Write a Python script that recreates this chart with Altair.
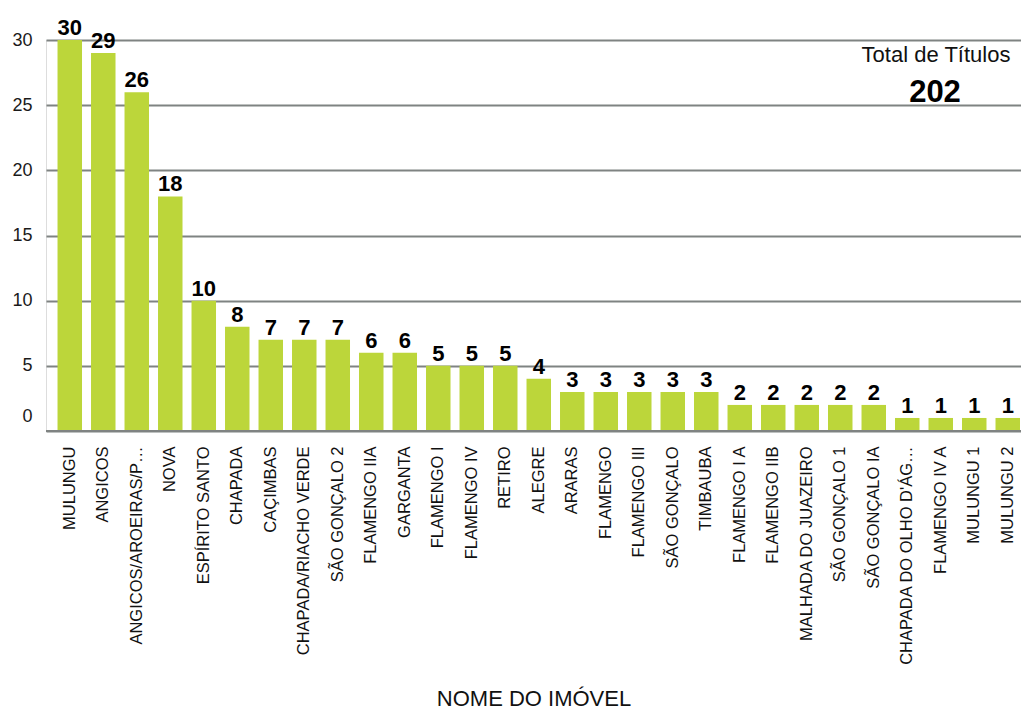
import altair as alt
import pandas as pd

# ---- data ----
names = [
    "MULUNGU", "ANGICOS", "ANGICOS/AROEIRAS/P…", "NOVA", "ESPÍRITO SANTO",
    "CHAPADA", "CAÇIMBAS", "CHAPADA/RIACHO VERDE", "SÃO GONÇALO 2",
    "FLAMENGO IIA", "GARGANTA", "FLAMENGO I", "FLAMENGO IV", "RETIRO",
    "ALEGRE", "ARARAS", "FLAMENGO", "FLAMENGO III", "SÃO GONÇALO",
    "TIMBAUBA", "FLAMENGO I A", "FLAMENGO IIB", "MALHADA DO JUAZEIRO",
    "SÃO GONÇALO 1", "SÃO GONÇALO IA", "CHAPADA DO OLHO D'ÁG…",
    "FLAMENGO IV A", "MULUNGU 1", "MULUNGU 2",
]
values = [30, 29, 26, 18, 10, 8, 7, 7, 7, 6, 6, 5, 5, 5, 4, 3, 3, 3, 3, 3,
          2, 2, 2, 2, 2, 1, 1, 1, 1]
y_ticks = [0, 5, 10, 15, 20, 25, 30]
baseline_value = [0]

x_title = "NOME DO IMÓVEL"
total_label = "Total de Títulos"

df = pd.DataFrame({"nome": names, "titulos": values})
base_df = pd.DataFrame({"y": baseline_value})

FONT = "Liberation Sans"
BAR = "#BCD63A"
GRID = "#7f8382"

x_enc = alt.X(
    "nome:N",
    sort=None,
    title=x_title,
    scale=alt.Scale(paddingInner=0.269, paddingOuter=0.187, align=0.92),
    axis=alt.Axis(
        labelAngle=-90, labelAlign="right", labelBaseline="middle",
        labelFontSize=16.5, labelPadding=15, labelColor="#111111",
        labelLimit=400, ticks=False, domain=False,
        titleFontSize=22, titleFontWeight="normal", titleColor="#111111",
        titlePadding=57,
    ),
)

y_enc = alt.Y(
    "titulos:Q",
    title=None,
    scale=alt.Scale(domain=[0, 30], nice=False),
    axis=alt.Axis(
        values=y_ticks, grid=True, gridColor=GRID, gridWidth=2,
        domain=False, ticks=False, labelFontSize=18, labelPadding=14,
        labelColor="#1a1a1a",
        labelOffset={"condition": {"test": "datum.value === 0", "value": -15}, "value": 0},
    ),
)

bars = alt.Chart(df).mark_bar(color=BAR).encode(x=x_enc, y=y_enc)

labels = alt.Chart(df).mark_text(
    font=FONT, fontWeight="bold", fontSize=22, baseline="alphabetic",
    dy=-5, color="black",
).encode(x=alt.X("nome:N", sort=None), y="titulos:Q", text="titulos:Q")

baseline = alt.Chart(base_df).mark_rule(color=GRID, strokeWidth=2).encode(
    y=alt.Y("y:Q")
)

total_title = alt.Chart(df).transform_aggregate(n="count()").mark_text(
    font=FONT, fontSize=22, baseline="alphabetic", align="center", color="#111111"
).encode(x=alt.value(890), y=alt.value(22), text=alt.value(total_label))

total_value = alt.Chart(df).transform_aggregate(total="sum(titulos)").mark_text(
    font=FONT, fontSize=31, fontWeight="bold", baseline="alphabetic",
    align="center", color="black",
).encode(x=alt.value(889), y=alt.value(62), text="total:Q")

chart = (
    alt.layer(bars, baseline, labels, total_title, total_value)
    .properties(
        width=975, height=391, autosize="none",
        padding={"left": 38, "top": 32, "right": 0, "bottom": 278},
    )
    .configure_view(stroke=None)
    .configure(font=FONT)
)

chart.save("out.html", embed_options={"renderer": "svg", "actions": False})
